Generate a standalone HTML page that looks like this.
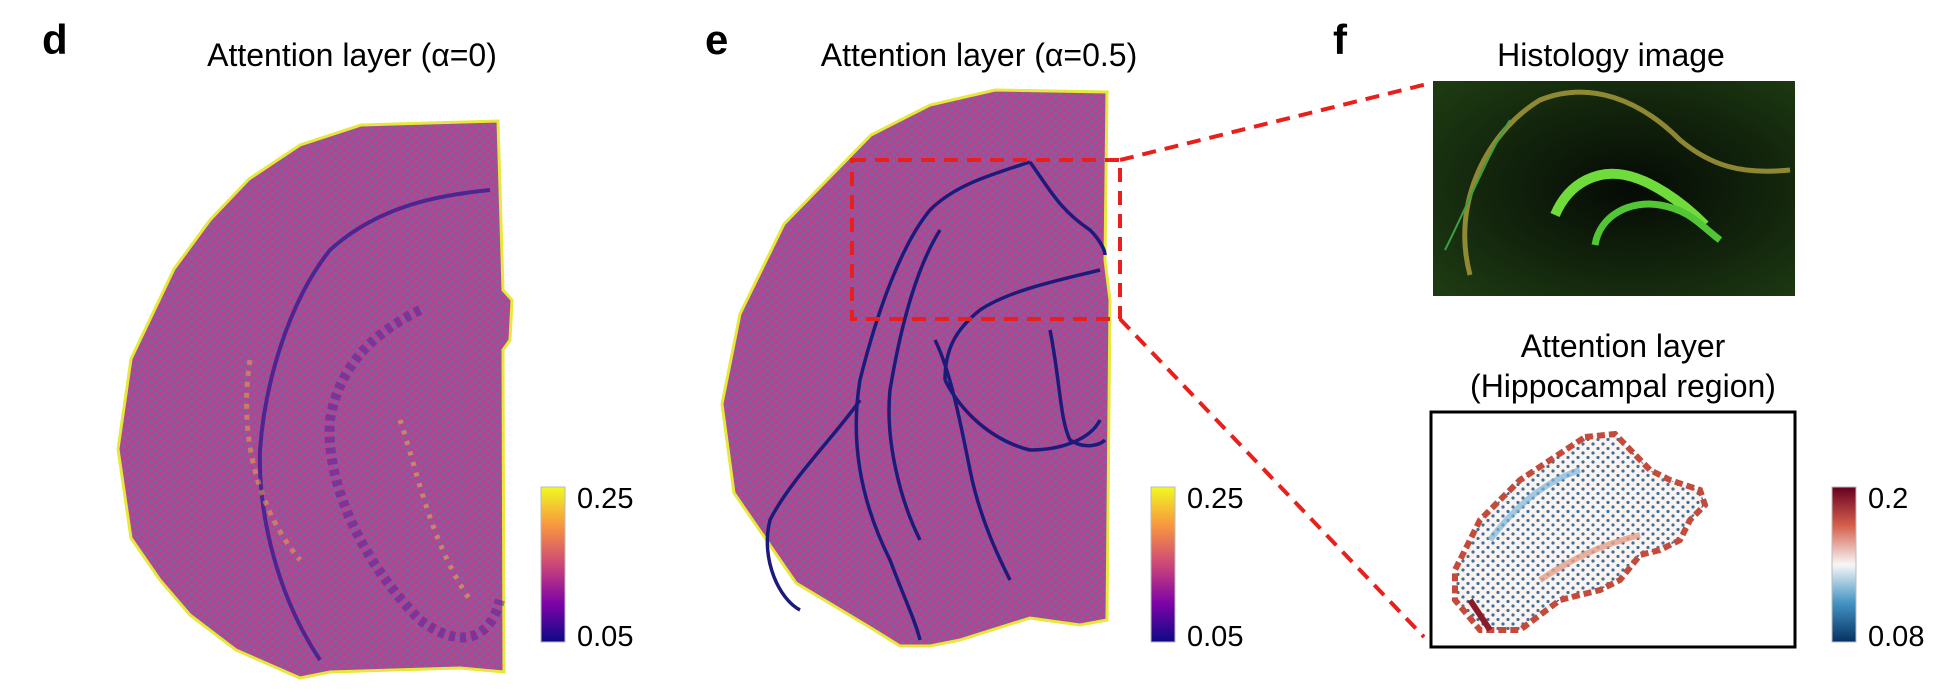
<!DOCTYPE html>
<html><head><meta charset="utf-8">
<style>
html,body{margin:0;padding:0;background:#fff;}
svg{display:block;}
text{font-family:"Liberation Sans",sans-serif;}
</style></head>
<body>
<svg width="1941" height="700" viewBox="0 0 1941 700">
<defs>
<pattern id="dots" width="9" height="8" patternUnits="userSpaceOnUse">
<rect width="9" height="8" fill="#b5448f"/>
<circle cx="2.5" cy="2" r="1.8" fill="#6f68a8"/>
<circle cx="7" cy="6" r="1.8" fill="#6f68a8"/>
</pattern>
<pattern id="dots2" width="10" height="9" patternUnits="userSpaceOnUse">
<rect width="10" height="9" fill="#fbf3f0"/>
<circle cx="3" cy="3" r="1.6" fill="#3d6f9a"/>
<circle cx="8" cy="7.5" r="1.6" fill="#3d6f9a"/>
</pattern>
<linearGradient id="plasma" x1="0" y1="1" x2="0" y2="0">
<stop offset="0" stop-color="#0d0887"/><stop offset="0.25" stop-color="#7e03a8"/>
<stop offset="0.5" stop-color="#cc4778"/><stop offset="0.75" stop-color="#f89540"/>
<stop offset="1" stop-color="#f0f921"/>
</linearGradient>
<linearGradient id="rdbu" x1="0" y1="1" x2="0" y2="0">
<stop offset="0" stop-color="#053061"/><stop offset="0.25" stop-color="#4393c3"/>
<stop offset="0.5" stop-color="#f7f7f7"/><stop offset="0.75" stop-color="#d6604d"/>
<stop offset="1" stop-color="#67001f"/>
</linearGradient>
<radialGradient id="histo" cx="0.55" cy="0.5" r="0.7">
<stop offset="0" stop-color="#050a05"/><stop offset="1" stop-color="#1d3a12"/>
</radialGradient>
</defs>

<!-- panel labels -->
<text x="42" y="54" font-size="42" font-weight="bold">d</text>
<text x="705" y="54" font-size="42" font-weight="bold">e</text>
<text x="1333" y="54" font-size="42" font-weight="bold">f</text>

<text x="352" y="66" font-size="32" text-anchor="middle">Attention layer (α=0)</text>
<text x="979" y="66" font-size="32" text-anchor="middle">Attention layer (α=0.5)</text>
<text x="1611" y="66" font-size="32" text-anchor="middle">Histology image</text>
<text x="1623" y="357" font-size="32" text-anchor="middle">Attention layer</text>
<text x="1623" y="397" font-size="32" text-anchor="middle">(Hippocampal region)</text>

<!-- brain d -->
<g>
<path d="M361,125 L498,121 L503,290 L512,300 L510,340 L503,350 L504,672 L460,668 L330,672 L300,678 L236,650 L190,615 L160,580 L131,538 L118,449 L131,359 L174,269 L210,220 L249,179 L300,145 Z" fill="url(#dots)" stroke="#e6e83a" stroke-width="3"/>
<path d="M490,190 C440,195 380,205 330,250 C290,300 265,380 260,450 C258,520 280,600 320,660" fill="none" stroke="#3b1a8f" stroke-width="4" opacity="0.8"/>
<path d="M420,310 C380,330 340,360 330,420 C325,480 360,560 420,620 C460,650 490,640 500,600" fill="none" stroke="#5a1a9a" stroke-width="10" opacity="0.5" stroke-dasharray="6 5"/>
<path d="M250,360 C240,420 250,500 300,560" fill="none" stroke="#f0a040" stroke-width="5" opacity="0.55" stroke-dasharray="5 6"/>
<path d="M400,420 C420,480 430,540 470,600" fill="none" stroke="#f0c040" stroke-width="5" opacity="0.5" stroke-dasharray="4 7"/>
</g>

<!-- brain e -->
<g>
<path d="M995,90 L1107,92 L1105,260 L1110,300 L1107,620 L1080,625 L1030,618 L960,640 L930,646 L900,646 L871,628 L796,583 L734,493 L722,404 L740,314 L784,224 L871,135 L930,105 Z" fill="url(#dots)" stroke="#e6e83a" stroke-width="3"/>
<g fill="none" stroke="#1d1a7a" stroke-width="3.5">
<path d="M1030,162 C990,175 955,185 930,210 C905,240 880,300 860,380 C850,440 860,500 890,560 C905,600 915,620 920,640"/>
<path d="M1030,162 C1050,190 1060,210 1090,230 C1100,240 1105,250 1105,255"/>
<path d="M940,230 C915,270 900,330 890,390 C885,440 900,500 920,540"/>
<path d="M1100,270 C1060,280 1010,290 980,310 C955,330 945,350 945,380"/>
<path d="M1050,330 C1060,380 1060,420 1070,440 C1085,450 1100,445 1105,440"/>
<path d="M945,380 C960,410 990,440 1030,450 C1060,450 1090,440 1100,420"/>
<path d="M860,400 C840,430 790,480 770,520 C760,560 780,600 800,610"/>
<path d="M935,340 C950,370 960,420 970,470 C980,520 1000,560 1010,580"/>
</g>
</g>

<!-- red zoom box and dashed lines -->
<g fill="none" stroke="#e8201c" stroke-width="4" stroke-dasharray="14 9">
<rect x="852" y="160" width="268" height="159"/>
<line x1="1120" y1="160" x2="1431" y2="83"/>
<line x1="1120" y1="319" x2="1424" y2="637"/>
</g>

<!-- histology image -->
<g>
<rect x="1433" y="81" width="362" height="215" fill="url(#histo)"/>
<path d="M1470,275 C1450,200 1490,130 1540,100 C1590,80 1640,100 1680,140 C1710,165 1740,175 1790,170" fill="none" stroke="#a59a3a" stroke-width="5" opacity="0.85"/>
<path d="M1555,215 C1570,180 1600,170 1625,175 C1650,180 1680,200 1705,225" fill="none" stroke="#6fdc3c" stroke-width="10"/>
<path d="M1595,245 C1600,215 1630,200 1660,205 C1690,210 1700,225 1720,240" fill="none" stroke="#52c634" stroke-width="7"/>
<path d="M1445,250 C1470,200 1490,150 1510,120" fill="none" stroke="#3aa040" stroke-width="2"/>
</g>

<!-- hippocampal attention -->
<g>
<rect x="1431" y="412" width="364" height="235" fill="#fff" stroke="#000" stroke-width="3"/>
<path d="M1585,437 L1615,434 L1650,470 L1670,480 L1700,490 L1705,505 L1690,520 L1680,540 L1660,550 L1640,555 L1620,580 L1600,590 L1560,600 L1520,630 L1480,630 L1455,600 L1455,570 L1480,520 L1520,480 Z" fill="url(#dots2)" stroke="#c44b3c" stroke-width="6" stroke-dasharray="8 4"/>
<path d="M1490,540 C1520,500 1550,480 1580,470" fill="none" stroke="#7fb5d8" stroke-width="6" opacity="0.7"/>
<path d="M1540,580 C1570,560 1600,545 1640,535" fill="none" stroke="#e7a08a" stroke-width="6" opacity="0.8"/>
<path d="M1470,600 L1490,630" stroke="#8b1a2a" stroke-width="6"/>
</g>

<!-- colorbars -->
<g id="cbars"></g>
</svg>
<script>
const cbarTicksD = ["0.25", "0.05"];
const cbarTicksE = ["0.25", "0.05"];
const cbarTicksF = ["0.2", "0.08"];
const NS = "http://www.w3.org/2000/svg";
const g = document.getElementById('cbars');
function cbar(x, fill, ticks, name) {
  const r = document.createElementNS(NS, 'rect');
  r.setAttribute('x', x); r.setAttribute('y', 487); r.setAttribute('width', 24); r.setAttribute('height', 155);
  r.setAttribute('fill', fill); r.setAttribute('stroke', '#bbb'); r.setAttribute('stroke-width', 1);
  
  
  g.appendChild(r);
  ticks.forEach((t, i) => {
    const tx = document.createElementNS(NS, 'text');
    tx.setAttribute('x', x + 36); tx.setAttribute('y', i === 0 ? 508 : 646);
    tx.setAttribute('font-size', 29); tx.textContent = t;
    
    
    g.appendChild(tx);
  });
}
cbar(541, 'url(#plasma)', cbarTicksD, 'd');
cbar(1151, 'url(#plasma)', cbarTicksE, 'e');
cbar(1832, 'url(#rdbu)', cbarTicksF, 'f');
</script>
</body></html>
